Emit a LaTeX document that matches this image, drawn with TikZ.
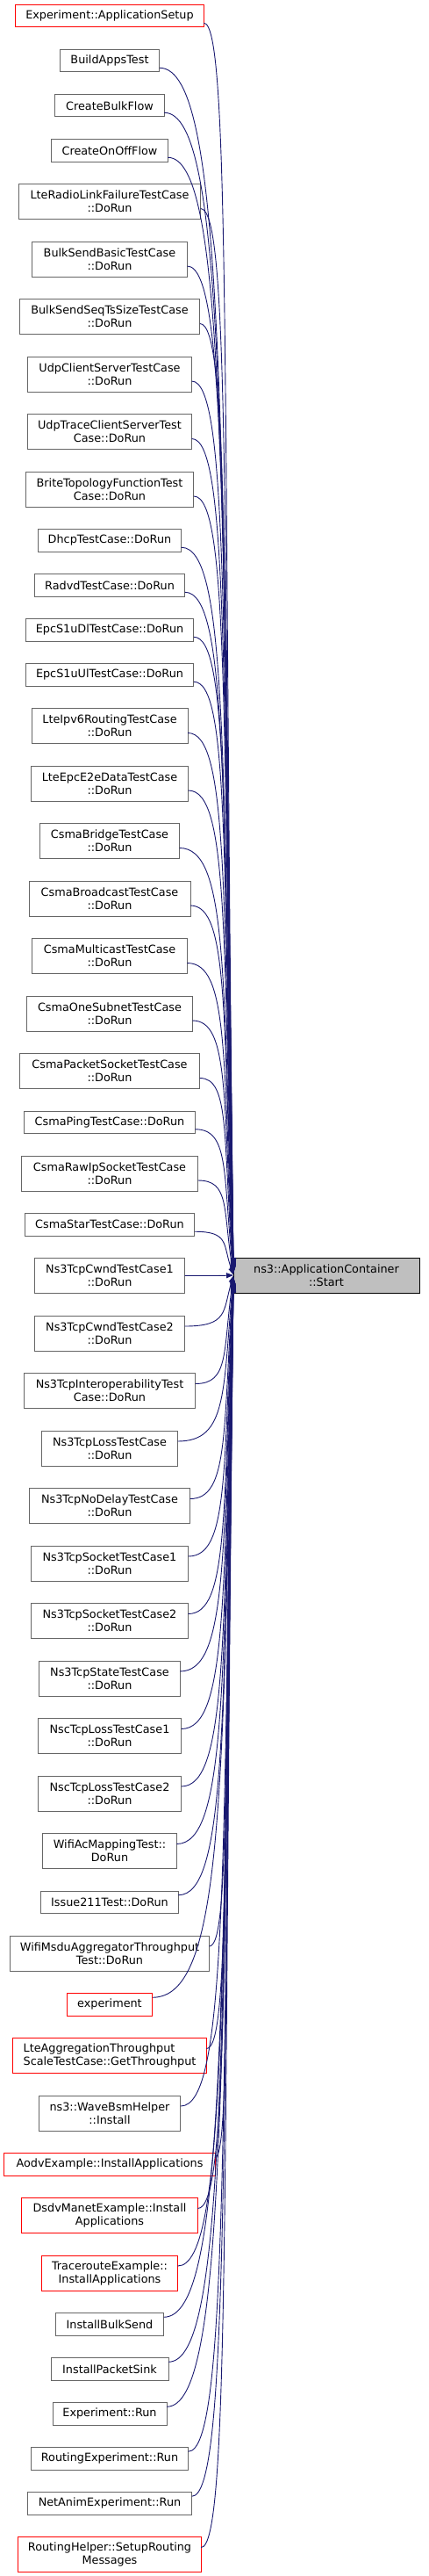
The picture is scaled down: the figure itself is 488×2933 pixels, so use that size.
\documentclass[tikz,border=0pt]{standalone}
\usepackage{fontspec}
\setmainfont{DejaVu Sans}
\usetikzlibrary{positioning, calc, arrows.meta}
\definecolor{callblue}{HTML}{191970}
\definecolor{boxgrey}{HTML}{666666}
\definecolor{rootgrey}{HTML}{BFBFBF}

\begin{document}
\begin{tikzpicture}[node distance=25.5pt,
    fn/.style={draw=boxgrey, fill=white, line width=1pt, outer sep=0pt, align=center, inner xsep=2pt, inner ysep=1pt,
               minimum height=40pt, font=\fontsize{12.8}{15}\selectfont},
    oneline/.style={minimum height=25.5pt},
    trunc/.style={draw=red},
    root/.style={fn, draw=black, fill=rootgrey},
    call/.style={-{Triangle[length=8pt,width=6pt]}, draw=callblue, line width=0.9pt}]
    \useasboundingbox (0,0) rectangle (488pt,-2933pt);

    % callers, top to bottom
    \node[fn, oneline, trunc, minimum width=214.7pt] (n1) at (125pt,-18.25pt) {Experiment::ApplicationSetup};
    \node[fn, oneline, minimum width=113.7pt, below=of n1] (n2) {BuildAppsTest};
    \node[fn, oneline, minimum width=124.3pt, below=of n2] (n3) {CreateBulkFlow};
    \node[fn, oneline, minimum width=132.3pt, below=of n3] (n4) {CreateOnOffFlow};
    \node[fn, minimum width=207.3pt, below=of n4] (n5) {LteRadioLinkFailureTestCase\\::DoRun};
    \node[fn, minimum width=176.7pt, below=of n5] (n6) {BulkSendBasicTestCase\\::DoRun};
    \node[fn, minimum width=205.7pt, below=of n6] (n7) {BulkSendSeqTsSizeTestCase\\::DoRun};
    \node[fn, minimum width=187pt, below=of n7] (n8) {UdpClientServerTestCase\\::DoRun};
    \node[fn, minimum width=187pt, below=of n8] (n9) {UdpTraceClientServerTest\\Case::DoRun};
    \node[fn, minimum width=191.7pt, below=of n9] (n10) {BriteTopologyFunctionTest\\Case::DoRun};
    \node[fn, oneline, minimum width=163.3pt, below=of n10] (n11) {DhcpTestCase::DoRun};
    \node[fn, oneline, minimum width=171.3pt, below=of n11] (n12) {RadvdTestCase::DoRun};
    \node[fn, oneline, minimum width=191.7pt, below=of n12] (n13) {EpcS1uDlTestCase::DoRun};
    \node[fn, oneline, minimum width=191.7pt, below=of n13] (n14) {EpcS1uUlTestCase::DoRun};
    \node[fn, minimum width=178pt, below=of n14] (n15) {LteIpv6RoutingTestCase\\::DoRun};
    \node[fn, minimum width=179.3pt, below=of n15] (n16) {LteEpcE2eDataTestCase\\::DoRun};
    \node[fn, minimum width=159.3pt, below=of n16] (n17) {CsmaBridgeTestCase\\::DoRun};
    \node[fn, minimum width=184pt, below=of n17] (n18) {CsmaBroadcastTestCase\\::DoRun};
    \node[fn, minimum width=176.7pt, below=of n18] (n19) {CsmaMulticastTestCase\\::DoRun};
    \node[fn, minimum width=188.7pt, below=of n19] (n20) {CsmaOneSubnetTestCase\\::DoRun};
    \node[fn, minimum width=205.3pt, below=of n20] (n21) {CsmaPacketSocketTestCase\\::DoRun};
    \node[fn, oneline, minimum width=194.7pt, below=of n21] (n22) {CsmaPingTestCase::DoRun};
    \node[fn, minimum width=201.3pt, below=of n22] (n23) {CsmaRawIpSocketTestCase\\::DoRun};
    \node[fn, oneline, minimum width=193.7pt, below=of n23] (n24) {CsmaStarTestCase::DoRun};
    \node[fn, minimum width=171.3pt, below=of n24] (n25) {Ns3TcpCwndTestCase1\\::DoRun};
    \node[fn, minimum width=171.3pt, below=of n25] (n26) {Ns3TcpCwndTestCase2\\::DoRun};
    \node[fn, minimum width=195.3pt, below=of n26] (n27) {Ns3TcpInteroperabilityTest\\Case::DoRun};
    \node[fn, minimum width=155pt, below=of n27] (n28) {Ns3TcpLossTestCase\\::DoRun};
    \node[fn, minimum width=183pt, below=of n28] (n29) {Ns3TcpNoDelayTestCase\\::DoRun};
    \node[fn, minimum width=179pt, below=of n29] (n30) {Ns3TcpSocketTestCase1\\::DoRun};
    \node[fn, minimum width=179pt, below=of n30] (n31) {Ns3TcpSocketTestCase2\\::DoRun};
    \node[fn, minimum width=160.3pt, below=of n31] (n32) {Ns3TcpStateTestCase\\::DoRun};
    \node[fn, minimum width=163.3pt, below=of n32] (n33) {NscTcpLossTestCase1\\::DoRun};
    \node[fn, minimum width=163.3pt, below=of n33] (n34) {NscTcpLossTestCase2\\::DoRun};
    \node[fn, minimum width=152.7pt, below=of n34] (n35) {WifiAcMappingTest::\\DoRun};
    \node[fn, oneline, minimum width=156.3pt, below=of n35] (n36) {Issue211Test::DoRun};
    \node[fn, minimum width=227pt, below=of n36] (n37) {WifiMsduAggregatorThroughput\\Test::DoRun};
    \node[fn, oneline, trunc, minimum width=97.7pt, below=of n37] (n38) {experiment};
    \node[fn, trunc, align=left, minimum width=220.7pt, below=of n38] (n39) {LteAggregationThroughput\\ScaleTestCase::GetThroughput};
    \node[fn, minimum width=161.7pt, below=of n39] (n40) {ns3::WaveBsmHelper\\::Install};
    \node[fn, oneline, trunc, minimum width=240.3pt, below=of n40] (n41) {AodvExample::InstallApplications};
    \node[fn, trunc, minimum width=200.7pt, below=of n41] (n42) {DsdvManetExample::Install\\Applications};
    \node[fn, trunc, minimum width=155pt, below=of n42] (n43) {TracerouteExample::\\InstallApplications};
    \node[fn, oneline, minimum width=123.3pt, below=of n43] (n44) {InstallBulkSend};
    \node[fn, oneline, minimum width=134pt, below=of n44] (n45) {InstallPacketSink};
    \node[fn, oneline, minimum width=130pt, below=of n45] (n46) {Experiment::Run};
    \node[fn, oneline, minimum width=179pt, below=of n46] (n47) {RoutingExperiment::Run};
    \node[fn, oneline, minimum width=187.3pt, below=of n47] (n48) {NetAnimExperiment::Run};
    \node[fn, trunc, minimum width=208.3pt, below=of n48] (n49) {RoutingHelper::SetupRouting\\Messages};

    % the called function
    \node[root, minimum width=212pt, anchor=west] (start) at (266pt,-1452pt) {ns3::ApplicationContainer\\::Start};

    \foreach \i in {1,...,49} {
        \pgfmathsetmacro\dy{8*sign(\i-25)}
        \draw[call] let \p1=($(n\i.east)+(0pt,\dy pt)$), \p2=($(start.west)+(0pt,{(25-\i)*0.5pt})$) in
            (\p1) .. controls ({\x1+0.9*(\x2-\x1)},\y1) and (\x2-12pt,{\y2+0.7*(\y1-\y2)}) .. (\p2);
    }
\end{tikzpicture}
\end{document}
